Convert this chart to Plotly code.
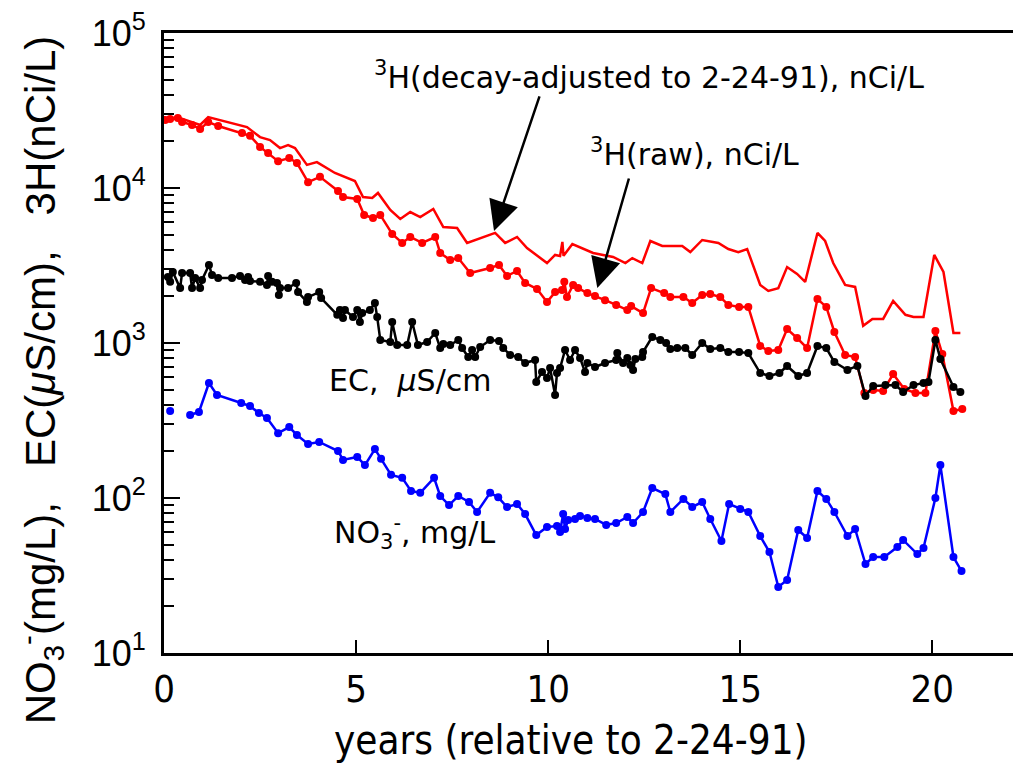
import plotly.graph_objects as go

# ---- data ----
h3_adj_years = [0.03, 0.34, 0.94, 1.15, 2.16, 2.50, 2.76, 3.02, 3.23, 3.41, 3.72, 3.98, 4.45, 4.97,
                5.18, 5.42, 5.57, 5.89, 6.15, 6.41, 6.67, 7.01, 7.27, 7.63, 7.89, 8.62, 8.88, 9.19,
                9.45, 9.97, 10.18, 10.31, 10.37, 10.40, 10.63, 11.09, 11.17, 11.69, 12.01, 12.19,
                12.45, 12.66, 12.97, 13.49, 13.70, 14.01, 14.17, 14.43, 14.69, 14.95, 15.18, 15.52,
                15.73, 15.99, 16.22, 16.48, 16.69, 17.01, 17.21, 17.42, 17.73, 17.99, 18.20, 18.44,
                18.72, 18.98, 19.30, 19.51, 19.77, 20.05, 20.29, 20.55, 20.73]
h3_adj_vals = [27500, 28700, 25500, 28700, 24700, 21300, 20400, 18100, 18900, 18100, 14100, 14700,
               12500, 11100, 8750, 8620, 9290, 7210, 6310, 7000, 6500, 7320, 5600, 5520, 4420, 5130,
               4420, 4830, 4100, 3280, 3700, 3640, 4490, 3650, 4350, 3860, 3810, 3590, 3280, 3530,
               3280, 4550, 4230, 4230, 3860, 4620, 4550, 4420, 4040, 3860, 4040, 2370, 2165, 2260,
               3090, 2790, 2480, 5130, 4550, 3280, 2370, 2300, 1290, 1430, 1430, 1870, 1520, 1470,
               1470, 3700, 2870, 1160, 1160]

h3_raw_years = [0.03, 0.16, 0.36, 0.47, 0.73, 0.94, 1.15, 1.41, 2.03, 2.24, 2.50, 2.71, 2.97, 3.26,
                3.46, 3.75, 4.06, 4.53, 4.66, 5.03, 5.21, 5.44, 5.63, 5.94, 6.20, 6.41, 6.72, 7.06,
                7.19, 7.45, 7.66, 7.97, 8.49, 8.72, 8.93, 9.19, 9.40, 9.71, 9.97, 10.18, 10.36, 10.42,
                10.49, 10.65, 10.78, 11.02, 11.22, 11.48, 11.77, 12.06, 12.16, 12.47, 12.68, 13.02,
                13.18, 13.52, 13.75, 14.01, 14.22, 14.48, 14.69, 14.97, 15.21, 15.52, 15.73, 15.99,
                16.22, 16.48, 16.74, 17.01, 17.24, 17.45, 17.73, 17.99, 18.23, 18.46, 18.72, 18.98,
                19.27, 19.56, 19.82, 20.08, 20.26, 20.55, 20.78]
h3_raw_vals = [27500, 27900, 28300, 26700, 25500, 24000, 26700, 25100, 22600, 21700, 18400, 16800,
               14900, 15600, 14500, 10900, 11800, 9570, 8750, 8500, 6700, 6400, 6700, 5050, 4420,
               4830, 4420, 4830, 3810, 3430, 3530, 2830, 3050, 3190, 2710, 2915, 2440, 2230, 1840,
               2130, 2200, 2480, 1980, 2370, 2260, 2100, 2010, 1890, 1760, 1630, 1730, 1560, 2260,
               2100, 1980, 1980, 1810, 2040, 2070, 1980, 1760, 1710, 1710, 957, 888, 901, 1230, 1077,
               928, 1920, 1710, 1178, 837, 812, 476, 497, 490, 631, 505, 476, 476, 1195, 849, 364, 375]

ec_years = [0.10, 0.16, 0.23, 0.42, 0.47, 0.68, 0.73, 0.81, 0.94, 0.99, 1.17, 1.25, 1.41, 1.77,
            1.98, 2.11, 2.19, 2.24, 2.50, 2.68, 2.71, 2.81, 2.94, 2.99, 3.02, 3.23, 3.44, 3.49,
            3.72, 3.75, 4.04, 4.09, 4.51, 4.58, 4.66, 4.71, 4.92, 5.03, 5.10, 5.16, 5.36, 5.49,
            5.55, 5.63, 5.89, 5.94, 6.07, 6.33, 6.46, 6.61, 6.85, 7.06, 7.19, 7.27, 7.45, 7.66,
            7.76, 7.92, 8.02, 8.10, 8.23, 8.49, 8.72, 8.83, 9.01, 9.22, 9.40, 9.66, 9.69, 9.84,
            9.97, 10.05, 10.18, 10.23, 10.31, 10.44, 10.57, 10.70, 10.83, 10.96, 11.02, 11.22,
            11.48, 11.77, 11.80, 11.95, 12.06, 12.14, 12.21, 12.27, 12.45, 12.47, 12.71, 12.92,
            13.07, 13.18, 13.36, 13.57, 13.75, 14.01, 14.22, 14.48, 14.69, 14.97, 15.21, 15.52,
            15.76, 16.02, 16.22, 16.51, 16.74, 17.01, 17.24, 17.45, 17.79, 18.05, 18.26, 18.46,
            18.78, 19.04, 19.24, 19.51, 19.77, 19.90, 20.08, 20.21, 20.55, 20.73]
ec_vals = [2670, 2480, 2870, 2260, 2830, 2830, 2260, 2630, 2260, 2550, 3190, 2750, 2630, 2630,
           2710, 2550, 2670, 2510, 2480, 2370, 2710, 2480, 2440, 2040, 2260, 2260, 2440, 2130,
           1840, 1980, 2130, 1950, 1520, 1630, 1450, 1630, 1470, 1630, 1365, 1560, 1630, 1810,
           1470, 1045, 1015, 1365, 970, 970, 1365, 970, 1015, 1160, 928, 985, 970, 1045,
           928, 812, 901, 812, 942, 1045, 1030, 928, 837, 812, 743, 777, 560, 650,
           594, 690, 462, 640, 690, 901, 777, 901, 800, 650, 743, 700,
           743, 777, 861, 743, 800, 721, 670, 788, 812, 875, 1095, 1045,
           1000, 915, 928, 928, 837, 1000, 915, 928, 875, 875, 861, 640,
           612, 640, 711, 612, 640, 957, 928, 754, 670, 711, 455, 528,
           535, 535, 483, 535, 552, 560, 1045, 788, 520, 483]

no3_years = [0.16, None, 0.68, 0.91, 1.17, 1.38, 2.01, 2.24, 2.47, 2.68, 2.97, 3.26, 3.46, 3.75,
             4.04, 4.53, 4.66, 5.03, 5.23, 5.49, 5.65, 5.91, 6.20, 6.43, 6.67, 7.03, 7.19, 7.42,
             7.66, 7.94, 8.15, 8.49, 8.70, 8.93, 9.19, 9.40, 9.69, 9.97, 10.23, 10.31, 10.39,
             10.44, 10.52, 10.70, 10.83, 11.02, 11.22, 11.51, 11.77, 12.06, 12.21, 12.47, 12.71,
             13.05, 13.18, 13.52, 13.75, 14.01, 14.22, 14.51, 14.71, 15.00, 15.21, 15.52, 15.76,
             15.99, 16.22, 16.51, 16.74, 17.01, 17.24, 17.45, 17.79, 17.99, 18.26, 18.46, 18.75,
             19.09, 19.24, 19.61, 19.77, 20.08, 20.21, 20.55, 20.76]
no3_vals = [364, None, 343, 359, 552, 462, 410, 392, 353, 328, 262, 287, 255, 223,
            230, 201, 176, 184, 163, 207, 179, 141, 135, 111, 108, 135, 103, 90.1,
            103, 94.2, 81.2, 108, 101, 87.5, 91.5, 78.8, 57.7, 65.0, 66.0, 60.4, 78.8,
            63.1, 72.1, 73.2, 76.5, 74.3, 73.2, 67.0, 69.0, 75.4, 69.0, 81.2, 116,
            106, 81.2, 98.6, 87.5, 94.2, 73.2, 52.8, 91.5, 84.9, 81.2, 56.8, 44.8,
            26.7, 29.6, 62.2, 55.2, 111, 98.6, 81.2, 56.8, 63.1, 37.5, 41.6, 41.6,
            48.3, 53.6, 43.5, 47.6, 100, 163, 41.6, 33.8]

x_tick_vals = [0, 5, 10, 15, 20]
y_tick_vals = [10, 100, 1000, 10000, 100000]
y_tick_text = ["10<sup>1</sup>", "10<sup>2</sup>", "10<sup>3</sup>", "10<sup>4</sup>", "10<sup>5</sup>"]

RED = "#ff0000"
BLUE = "#0000ff"
NARROW = "Liberation Sans Narrow, DejaVu Sans Condensed, DejaVu Sans, sans-serif"
SANS = "Liberation Sans, Arial, Helvetica, sans-serif"
WIDE = "DejaVu Sans, Verdana, sans-serif"

fig = go.Figure()
fig.add_trace(go.Scatter(x=h3_adj_years, y=h3_adj_vals, mode="lines",
                         line=dict(color=RED, width=2.5), showlegend=False))
fig.add_trace(go.Scatter(x=h3_raw_years, y=h3_raw_vals, mode="lines+markers",
                         line=dict(color=RED, width=2.5), marker=dict(color=RED, size=8),
                         showlegend=False))
fig.add_trace(go.Scatter(x=ec_years, y=ec_vals, mode="lines+markers",
                         line=dict(color="black", width=2.5), marker=dict(color="black", size=8),
                         showlegend=False))
fig.add_trace(go.Scatter(x=no3_years, y=no3_vals, mode="lines+markers",
                         line=dict(color=BLUE, width=2.5), marker=dict(color=BLUE, size=8),
                         showlegend=False, connectgaps=False))

ann_font = dict(family=WIDE, size=30, color="black")
annotations = [
    # arrows
    dict(x=8.59, y=3.723, xref="x", yref="y", ax=46, ay=-136, showarrow=True,
         arrowhead=2, arrowsize=2.4, arrowwidth=2.5, arrowcolor="black", text=""),
    dict(x=11.28, y=3.355, xref="x", yref="y", ax=32, ay=-111, showarrow=True,
         arrowhead=2, arrowsize=2.4, arrowwidth=2.5, arrowcolor="black", text=""),
    # labels
    dict(x=5.42, y=4.729, xref="x", yref="y", xanchor="left", yanchor="middle",
         text="<sup>3</sup>H(decay-adjusted to 2-24-91), nCi/L", showarrow=False, font=ann_font),
    dict(x=11.04, y=4.226, xref="x", yref="y", xanchor="left", yanchor="middle",
         text="<sup>3</sup>H(raw), nCi/L", showarrow=False, font=ann_font),
    dict(x=4.24, y=2.755, xref="x", yref="y", xanchor="left", yanchor="middle",
         text="EC,  <i>μ</i>S/cm", showarrow=False, font=ann_font),
    dict(x=4.37, y=1.78, xref="x", yref="y", xanchor="left", yanchor="middle",
         text="NO<sub>3</sub><sup>-</sup>, mg/L", showarrow=False, font=ann_font),
    # axis titles
    dict(x=-0.146, y=0.44, xref="paper", yref="paper", xanchor="center", yanchor="middle",
         textangle=-90, showarrow=False,
         text="NO<sub>3</sub><sup>-</sup>(mg/L),\u00a0\u00a0\u00a0EC(<i>μ</i>S/cm),\u00a0\u00a0\u00a03H(nCi/L)",
         font=dict(family=SANS, size=42, color="black")),
    dict(x=0.479, y=-0.14, xref="paper", yref="paper", xanchor="center", yanchor="middle",
         showarrow=False, text="years (relative to 2-24-91)",
         font=dict(family=NARROW, size=40, color="black")),
]

fig.update_layout(
    width=1013, height=763,
    margin=dict(l=164, r=0, t=33, b=110),
    paper_bgcolor="white", plot_bgcolor="white",
    annotations=annotations,
    xaxis=dict(range=[0, 22.1], tickvals=x_tick_vals, ticks="inside", ticklen=13, tickwidth=2,
               tickcolor="black", showline=True, linewidth=3, linecolor="black", mirror=True,
               showgrid=False, zeroline=False,
               tickfont=dict(family=NARROW, size=38, color="black")),
    yaxis=dict(type="log", range=[1, 5], tickvals=y_tick_vals, ticktext=y_tick_text,
               ticks="inside", ticklen=16, tickwidth=2, tickcolor="black",
               showline=True, linewidth=3, linecolor="black", mirror=False,
               showgrid=False, zeroline=False, ticklabelstandoff=8,
               tickfont=dict(family=SANS, size=36, color="black"),
               minor=dict(ticks="inside", ticklen=10, tickwidth=2, tickcolor="black",
                          dtick="D1", showgrid=False)),
)

fig.write_html("out.html")
